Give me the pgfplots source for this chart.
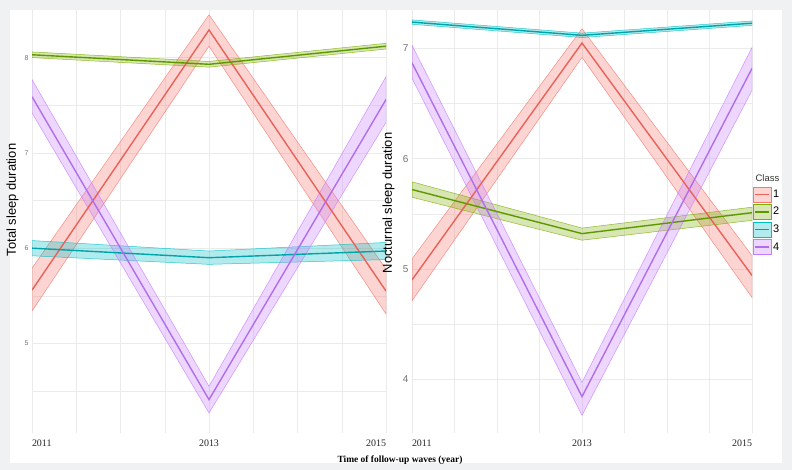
\documentclass[border=0pt]{standalone}
\usepackage{pgfplots}
\pgfplotsset{compat=1.18}
\usepackage{fontspec}
\setmainfont{Liberation Sans}
\newfontfamily\seriffont{Liberation Serif}
\definecolor{c1}{HTML}{F8766D}
\definecolor{c2}{HTML}{7CAE00}
\definecolor{c3}{HTML}{00BFC4}
\definecolor{c4}{HTML}{C77CFF}
\definecolor{l1}{HTML}{E8625A}
\definecolor{l2}{HTML}{5E9800}
\definecolor{l3}{HTML}{00A3A8}
\definecolor{l4}{HTML}{B06EEA}
\definecolor{bg}{HTML}{F0F1F3}
\definecolor{gridc}{HTML}{EBEBEB}
\pgfplotsset{
  panel/.style={
    scale only axis,
    axis line style={draw=none},
    tick style={draw=none},
    grid=both,
    major grid style={color=gridc, line width=0.7pt},
    minor grid style={color=gridc, line width=0.5pt},
    xmin=2011, xmax=2015,
    xtick={2011,2013,2015},
    minor xtick={2011.5,2012,2012.5,2013.5,2014,2014.5},
    xticklabels={\hphantom{2011}2011,2013,2015\hphantom{2015}},
    xticklabel style={font=\seriffont\fontsize{10}{12}\selectfont, color=black!85, yshift=-3bp},
    yticklabel style={color=black!55},
    /pgf/number format/assume math mode=true,
    ylabel style={rotate=0, anchor=south, font=\fontsize{13}{15}\selectfont},
  },
  ribbon/.style={fill=#1, fill opacity=0.3, draw=#1, draw opacity=0.8, line width=0.5pt},
  mline/.style={draw=#1, line width=1.4pt},
}
\begin{document}
\begin{tikzpicture}[x=1bp,y=1bp]
\fill[bg] (0,0) rectangle (792,470);
\fill[white] (10,7) rectangle (782,460);

% Left panel
\begin{axis}[panel, at={(32bp,37bp)}, anchor=south west, width=354bp, height=423bp,
  ymin=4.06, ymax=8.5, ytick={5,6,7,8}, minor ytick={4.5,5.5,6.5,7.5},
  yticklabel style={font=\fontsize{7}{8}\selectfont},
  ylabel={Total sleep duration},
  ylabel style={at={(axis description cs:-0.028,0.551)}}]
\addplot[ribbon=c1] coordinates {(2011,5.79)(2013,8.45)(2015,5.78)(2015,5.31)(2013,8.12)(2011,5.34)} -- cycle;
\addplot[ribbon=c2] coordinates {(2011,8.06)(2013,7.96)(2015,8.15)(2015,8.09)(2013,7.90)(2011,8.00)} -- cycle;
\addplot[ribbon=c3] coordinates {(2011,6.08)(2013,5.97)(2015,6.06)(2015,5.88)(2013,5.83)(2011,5.92)} -- cycle;
\addplot[ribbon=c4] coordinates {(2011,7.77)(2013,4.55)(2015,7.80)(2015,7.32)(2013,4.27)(2011,7.42)} -- cycle;
\addplot[mline=l1] coordinates {(2011,5.56)(2013,8.29)(2015,5.55)};
\addplot[mline=l2] coordinates {(2011,8.03)(2013,7.93)(2015,8.12)};
\addplot[mline=l3] coordinates {(2011,6.00)(2013,5.90)(2015,5.97)};
\addplot[mline=l4] coordinates {(2011,7.59)(2013,4.41)(2015,7.56)};
\end{axis}

% Right panel
\begin{axis}[panel, at={(412bp,37bp)}, anchor=south west, width=340bp, height=423bp,
  ymin=3.51, ymax=7.35, ytick={4,5,6,7}, minor ytick={4.5,5.5,6.5},
  yticklabel style={font=\fontsize{10}{12}\selectfont},
  ylabel={Nocturnal sleep duration},
  ylabel style={at={(axis description cs:-0.041,0.544)}},
  clip mode=individual,
  legend style={at={(axis description cs:1.003,0.583)}, anchor=north west, draw=none, fill=none,
    font=\fontsize{11}{12}\selectfont, row sep=2.2bp, inner sep=0pt,
    nodes={inner sep=1.5bp}},
  legend cell align=left]
\addplot[ribbon=c1, forget plot] coordinates {(2011,5.09)(2013,7.18)(2015,5.12)(2015,4.74)(2013,6.92)(2011,4.71)} -- cycle;
\addplot[ribbon=c2, forget plot] coordinates {(2011,5.79)(2013,5.37)(2015,5.56)(2015,5.44)(2013,5.26)(2011,5.65)} -- cycle;
\addplot[ribbon=c3, forget plot] coordinates {(2011,7.26)(2013,7.14)(2015,7.25)(2015,7.21)(2013,7.10)(2011,7.22)} -- cycle;
\addplot[ribbon=c4, forget plot] coordinates {(2011,7.03)(2013,3.97)(2015,7.01)(2015,6.62)(2013,3.67)(2011,6.73)} -- cycle;
\addplot[mline=l1, forget plot] coordinates {(2011,4.90)(2013,7.05)(2015,4.94)};
\addplot[mline=l2, forget plot] coordinates {(2011,5.72)(2013,5.32)(2015,5.51)};
\addplot[mline=l3, forget plot] coordinates {(2011,7.24)(2013,7.12)(2015,7.23)};
\addplot[mline=l4, forget plot] coordinates {(2011,6.87)(2013,3.84)(2015,6.82)};
\addlegendimage{legend image code/.code={\draw[fill=c1, fill opacity=0.3, draw=c1] (0bp,-7.5bp) rectangle (18bp,7.5bp); \draw[l1, line width=1.4pt] (2bp,0bp)--(16bp,0bp);}}
\addlegendentry{1}
\addlegendimage{legend image code/.code={\draw[fill=c2, fill opacity=0.3, draw=c2] (0bp,-7.5bp) rectangle (18bp,7.5bp); \draw[l2, line width=1.4pt] (2bp,0bp)--(16bp,0bp);}}
\addlegendentry{2}
\addlegendimage{legend image code/.code={\draw[fill=c3, fill opacity=0.3, draw=c3] (0bp,-7.5bp) rectangle (18bp,7.5bp); \draw[l3, line width=1.4pt] (2bp,0bp)--(16bp,0bp);}}
\addlegendentry{3}
\addlegendimage{legend image code/.code={\draw[fill=c4, fill opacity=0.3, draw=c4] (0bp,-7.5bp) rectangle (18bp,7.5bp); \draw[l4, line width=1.4pt] (2bp,0bp)--(16bp,0bp);}}
\addlegendentry{4}
\node[anchor=south west, font=\fontsize{9.5}{10}\selectfont, color=black!80, inner sep=0pt] at (axis description cs:1.010,0.594) {Class};
\end{axis}

\node[font=\seriffont\bfseries\fontsize{9.5}{11}\selectfont] at (400,10) {Time of follow-up waves (year)};
\pgfresetboundingbox
\path (0,0) rectangle (792,470);
\end{tikzpicture}
\end{document}
